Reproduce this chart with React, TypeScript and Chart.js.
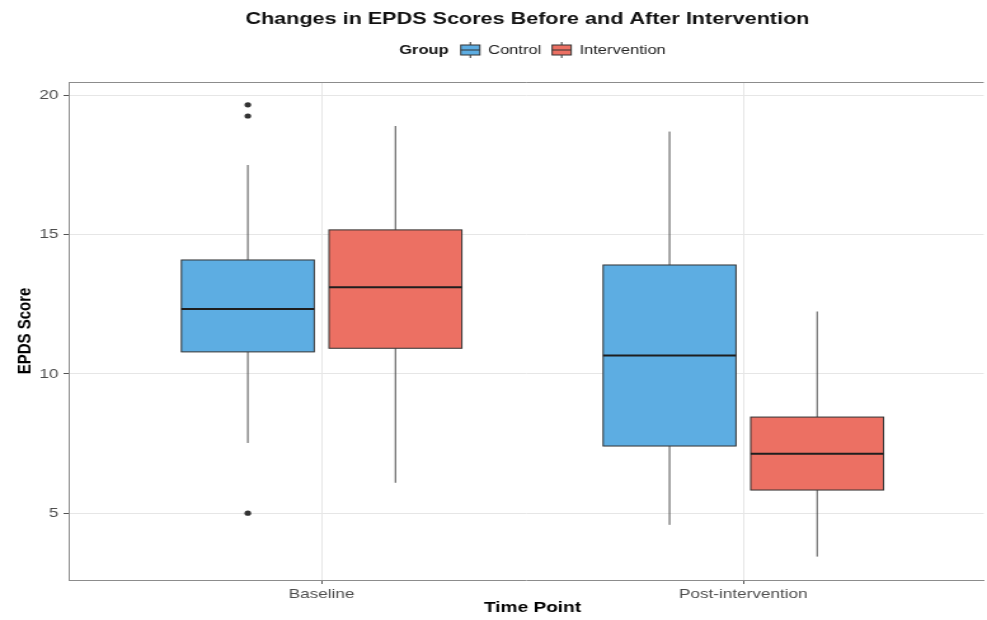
import React, { useEffect, useRef } from "react";
import { Chart, registerables } from "chart.js";

Chart.register(...registerables);

// ---------- text ----------
const chartTitle = "Changes in EPDS Scores Before and After Intervention";
const legendTitle = "Group";
const xAxisTitle = "Time Point";
const yAxisTitle = "EPDS Score";

// ---------- categories ----------
const timePoints = ["Baseline", "Post-intervention"];
const groupNames = ["Control", "Intervention"];
const groupColors = ["#5DADE2", "#EC7063"];

// ---------- Control group (per time point) ----------
const controlWhiskerLow = [7.52, 4.58];
const controlQ1 = [10.79, 7.41];
const controlMedian = [12.33, 10.66];
const controlQ3 = [14.09, 13.91];
const controlWhiskerHigh = [17.5, 18.7];
const controlOutliers = [[19.66, 19.26, 5.0], []];

// ---------- Intervention group (per time point) ----------
const interventionWhiskerLow = [6.09, 3.44];
const interventionQ1 = [10.92, 5.83];
const interventionMedian = [13.11, 7.13];
const interventionQ3 = [15.17, 8.45];
const interventionWhiskerHigh = [18.9, 12.24];
const interventionOutliers = [[], []];

// ---------- axis ticks ----------
const yTicks = [5, 10, 15, 20];

// ---------- layout / style ----------
const FONT = "'Liberation Sans', Arial, Helvetica, sans-serif";
const BITMAP_W = 777; // drawn narrower, displayed horizontally stretched like the reference
const CSS_W = 987;
const H = 620;
const DODGE = [-0.175, 0.175];
const HALF = 0.1575;

const groupStats = [
  { lo: controlWhiskerLow, q1: controlQ1, med: controlMedian, q3: controlQ3, hi: controlWhiskerHigh },
  { lo: interventionWhiskerLow, q1: interventionQ1, med: interventionMedian, q3: interventionQ3, hi: interventionWhiskerHigh },
];

const outlierPoints = (outs: number[][], gi: number) =>
  outs.flatMap((vals, ti) => vals.map((v) => ({ x: ti + 1 + DODGE[gi], y: v })));

const boxPlugin = {
  id: "boxes",
  beforeDatasetsDraw(chart: any) {
    const { ctx, chartArea, scales } = chart;
    const xs = scales.x;
    const ys = scales.y;
    ctx.save();
    ctx.beginPath();
    ctx.rect(chartArea.left, chartArea.top, chartArea.right - chartArea.left, chartArea.bottom - chartArea.top);
    ctx.clip();
    groupStats.forEach((g, gi) => {
      timePoints.forEach((_, ti) => {
        const c = ti + 1 + DODGE[gi];
        const xl = xs.getPixelForValue(c - HALF);
        const xr = xs.getPixelForValue(c + HALF);
        const xc = xs.getPixelForValue(c);
        const yLo = ys.getPixelForValue(g.lo[ti]);
        const yQ1 = ys.getPixelForValue(g.q1[ti]);
        const yMed = ys.getPixelForValue(g.med[ti]);
        const yQ3 = ys.getPixelForValue(g.q3[ti]);
        const yHi = ys.getPixelForValue(g.hi[ti]);
        // whiskers
        ctx.strokeStyle = "#4D4D4D";
        ctx.lineWidth = 1;
        ctx.beginPath();
        ctx.moveTo(xc, yHi);
        ctx.lineTo(xc, yQ3);
        ctx.moveTo(xc, yQ1);
        ctx.lineTo(xc, yLo);
        ctx.stroke();
        // box
        ctx.fillStyle = groupColors[gi];
        ctx.fillRect(xl, yQ3, xr - xl, yQ1 - yQ3);
        ctx.strokeStyle = "#333333";
        ctx.lineWidth = 1;
        ctx.strokeRect(xl, yQ3, xr - xl, yQ1 - yQ3);
        // median
        ctx.strokeStyle = "#1E1E1E";
        ctx.lineWidth = 2;
        ctx.beginPath();
        ctx.moveTo(xl, yMed);
        ctx.lineTo(xr, yMed);
        ctx.stroke();
      });
    });
    ctx.restore();
  },
};

const decorPlugin = {
  id: "decor",
  afterDraw(chart: any) {
    const { ctx, chartArea, scales } = chart;
    const xs = scales.x;
    const cx = xs.getPixelForValue(1.5);
    ctx.save();
    // top border of the panel
    ctx.strokeStyle = "#8C8C8C";
    ctx.lineWidth = 1;
    ctx.beginPath();
    ctx.moveTo(chartArea.left, Math.round(chartArea.top) + 0.5);
    ctx.lineTo(chartArea.right, Math.round(chartArea.top) + 0.5);
    ctx.stroke();

    // title
    ctx.fillStyle = "#111111";
    ctx.textBaseline = "middle";
    ctx.textAlign = "center";
    ctx.font = `bold 17px ${FONT}`;
    ctx.fillText(chartTitle, cx - 4, 19);

    // x axis title
    ctx.font = `bold 15px ${FONT}`;
    ctx.fillStyle = "#000000";
    ctx.fillText(xAxisTitle, cx, 608);

    // legend
    const ly = 50;
    const keyW = 20;
    ctx.font = `bold 13px ${FONT}`;
    const titleW = ctx.measureText(legendTitle).width;
    ctx.font = `13px ${FONT}`;
    const labelWs = groupNames.map((n) => ctx.measureText(n).width);
    const gapTitle = 7;
    const gapKey = 4;
    const gapItem = 6;
    let total = titleW + gapTitle;
    labelWs.forEach((w, i) => {
      total += keyW + gapKey + w + (i < labelWs.length - 1 ? gapItem : 0);
    });
    let lx = cx - total / 2;
    ctx.textAlign = "left";
    ctx.font = `bold 13px ${FONT}`;
    ctx.fillStyle = "#111111";
    ctx.fillText(legendTitle, lx, ly);
    lx += titleW + gapTitle;
    groupNames.forEach((name, i) => {
      const kx = lx;
      const kcx = kx + keyW / 2;
      // whiskers
      ctx.strokeStyle = "#333333";
      ctx.lineWidth = 1;
      ctx.beginPath();
      ctx.moveTo(kcx, ly - 8);
      ctx.lineTo(kcx, ly - 5);
      ctx.moveTo(kcx, ly + 5);
      ctx.lineTo(kcx, ly + 8);
      ctx.stroke();
      // box
      ctx.fillStyle = groupColors[i];
      ctx.fillRect(kx + 2.5, ly - 5, 15, 10);
      ctx.strokeRect(kx + 2.5, ly - 5, 15, 10);
      ctx.beginPath();
      ctx.moveTo(kx + 2.5, ly);
      ctx.lineTo(kx + 17.5, ly);
      ctx.stroke();
      lx += keyW + gapKey;
      ctx.font = `13px ${FONT}`;
      ctx.fillStyle = "#222222";
      ctx.fillText(name, lx, ly);
      lx += labelWs[i] + gapItem;
    });
    ctx.restore();
  },
};

export default function App() {
  const canvasRef = useRef<HTMLCanvasElement | null>(null);

  useEffect(() => {
    const canvas = canvasRef.current;
    if (!canvas) return;
    const chart = new Chart(canvas, {
      type: "scatter",
      data: {
        datasets: [
          {
            label: groupNames[0] + " outliers",
            data: outlierPoints(controlOutliers, 0),
            pointRadius: 2.6,
            pointHoverRadius: 2.6,
            pointBackgroundColor: "#333333",
            pointBorderWidth: 0,
          },
          {
            label: groupNames[1] + " outliers",
            data: outlierPoints(interventionOutliers, 1),
            pointRadius: 2.6,
            pointHoverRadius: 2.6,
            pointBackgroundColor: "#333333",
            pointBorderWidth: 0,
          },
        ],
      },
      options: {
        responsive: false,
        maintainAspectRatio: false,
        animation: false,
        devicePixelRatio: 1,
        events: [],
        layout: { padding: { top: 82, left: 0, right: 0, bottom: 0 } },
        plugins: {
          legend: { display: false },
          title: { display: false },
          tooltip: { enabled: false },
        },
        scales: {
          x: {
            type: "linear",
            min: 0.4,
            max: 2.57,
            afterBuildTicks: (s: any) => {
              s.ticks = timePoints.map((_, i) => ({ value: i + 1 }));
            },
            afterFit: (s: any) => {
              s.height = 40;
            },
            ticks: {
              callback: (v: any) => timePoints[Math.round(Number(v)) - 1] ?? "",
              font: { family: FONT, size: 13.5 },
              color: "#4D4D4D",
              padding: 2,
              maxRotation: 0,
              autoSkip: false,
            },
            grid: { color: "#E6E6E6", tickColor: "#555555", tickLength: 4, lineWidth: 1 },
            border: { color: "#8C8C8C", width: 1 },
            title: { display: false },
          },
          y: {
            type: "linear",
            min: 2.6,
            max: 20.48,
            afterBuildTicks: (s: any) => {
              s.ticks = yTicks.map((v) => ({ value: v }));
            },
            afterFit: (s: any) => {
              s.width = 54;
            },
            ticks: {
              callback: (v: any) => String(v),
              font: { family: FONT, size: 13.5 },
              color: "#4D4D4D",
              padding: 4,
            },
            grid: { color: "#E6E6E6", tickColor: "#555555", tickLength: 4, lineWidth: 1 },
            border: { color: "#8C8C8C", width: 1 },
            title: {
              display: true,
              text: yAxisTitle,
              font: { family: FONT, size: 15, weight: "bold" },
              color: "#000000",
              padding: { top: 11, bottom: 0 },
            },
          },
        },
      } as any,
      plugins: [boxPlugin, decorPlugin],
    });
    return () => chart.destroy();
  }, []);

  return (
    <div style={{ position: "fixed", left: 0, top: 0, width: CSS_W, height: H, background: "#ffffff" }}>
      <canvas
        ref={canvasRef}
        width={BITMAP_W}
        height={H}
        style={{ width: CSS_W + "px", height: H + "px", display: "block" }}
      />
    </div>
  );
}
